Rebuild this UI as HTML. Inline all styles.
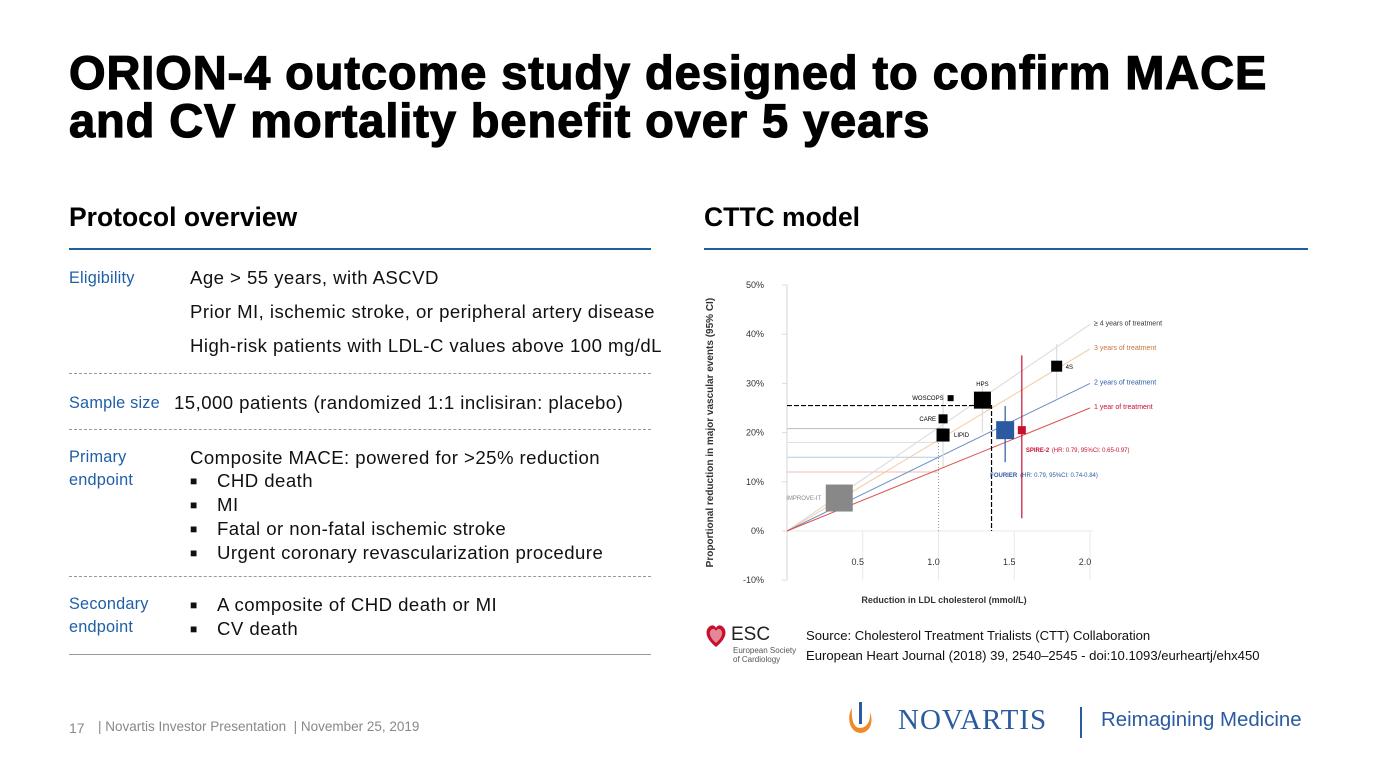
<!DOCTYPE html>
<html><head><meta charset="utf-8"><style>
body{margin:0;width:1375px;height:772px;background:#fff;position:relative;overflow:hidden;font-family:"Liberation Sans",Arial,sans-serif}
.a{position:absolute;white-space:nowrap}
.t{font-size:18.6px;color:#111;letter-spacing:0.45px}
.l{font-size:16.3px;color:#1f5fa8;line-height:23px;letter-spacing:0.2px}
.b{font-size:18.6px;color:#111;line-height:23px;letter-spacing:0.45px}
.b span{display:inline-block;width:27px;font-size:12px;vertical-align:2px;letter-spacing:0}
</style></head><body>
<div class="a" style="left:69px;top:49px;font-size:47px;font-weight:bold;line-height:48px;letter-spacing:0.9px;-webkit-text-stroke:1.2px #000;color:#000">ORION-4 outcome study designed to confirm MACE<br>and CV mortality benefit over 5 years</div>

<div class="a" style="left:69px;top:202px;font-size:26.5px;font-weight:bold">Protocol overview</div>
<div class="a" style="left:69px;top:248px;width:582px;height:2px;background:#1d5fa3"></div>
<div class="a" style="left:704px;top:202px;font-size:26.5px;font-weight:bold">CTTC model</div>
<div class="a" style="left:704px;top:248px;width:604px;height:2px;background:#1d5fa3"></div>

<div class="a l" style="left:69px;top:267px">Eligibility</div>
<div class="a t" style="left:190px;top:267px">Age &gt; 55 years, with ASCVD</div>
<div class="a t" style="left:190px;top:301px">Prior MI, ischemic stroke, or peripheral artery disease</div>
<div class="a t" style="left:190px;top:335px">High-risk patients with LDL-C values above 100 mg/dL</div>
<div class="a" style="left:69px;top:373px;width:582px;border-top:1px dashed #999"></div>
<div class="a l" style="left:69px;top:392px">Sample size</div>
<div class="a t" style="left:174px;top:392px">15,000 patients (randomized 1:1 inclisiran: placebo)</div>
<div class="a" style="left:69px;top:429px;width:582px;border-top:1px dashed #999"></div>
<div class="a l" style="left:69px;top:446px">Primary<br>endpoint</div>
<div class="a b" style="left:190px;top:446px">Composite MACE: powered for &gt;25% reduction<br><span>■</span>CHD death<br><span>■</span>MI<br><span>■</span>Fatal or non-fatal ischemic stroke<br><span>■</span>Urgent coronary revascularization procedure</div>
<div class="a" style="left:69px;top:576px;width:582px;border-top:1px dashed #999"></div>
<div class="a l" style="left:69px;top:593px">Secondary<br>endpoint</div>
<div class="a b" style="left:190px;top:593px"><span>■</span>A composite of CHD death or MI<br><span>■</span>CV death</div>
<div class="a" style="left:69px;top:654px;width:582px;border-top:1px solid #999"></div>

<svg class="a" style="left:0;top:0" width="1375" height="772" id="chart"></svg>

<svg class="a" style="left:704px;top:622px" width="36" height="28"><path d="M12 25 C2 17 1 10 4 6 C7 2 11 3 12 6 C13 3 17 2 20 6 C23 10 22 17 12 25Z" fill="#c8102e"/><path d="M12 21 C5 15 5 10 7 8 C9 6 11 7 12 9 C13 7 15 6 17 8 C19 10 19 15 12 21Z" fill="#fff" opacity=".5"/></svg>
<div class="a" style="left:731px;top:624px;font-size:19px;color:#222">ESC</div>
<div class="a" style="left:733px;top:646px;font-size:8px;line-height:9px;color:#555">European Society<br>of Cardiology</div>
<div class="a" style="left:806px;top:626px;font-size:13.1px;line-height:20px;color:#111">Source: Cholesterol Treatment Trialists (CTT) Collaboration<br>European Heart Journal (2018) 39, 2540–2545 - doi:10.1093/eurheartj/ehx450</div>

<div class="a" style="left:69px;top:720px;font-size:14px;color:#888">17</div>
<div class="a" style="left:98px;top:719px;font-size:13.5px;color:#888">| Novartis Investor Presentation &nbsp;| November 25, 2019</div>
<svg class="a" style="left:846px;top:700px" width="30" height="38"><path d="M6 8 C0 18 4 32 14 33 C24 33 28 22 24 12 C25 22 20 28 14 28 C8 28 5 20 6 8Z" fill="#f08a24"/><rect x="13" y="2" width="3" height="22" fill="#2a5aa0"/></svg>
<div class="a" style="left:898px;top:704px;font-family:'Liberation Serif',serif;font-size:29px;color:#2a5aa0;letter-spacing:1px">NOVARTIS</div>
<div class="a" style="left:1080px;top:707px;width:2px;height:31px;background:#2a5aa0"></div>
<div class="a" style="left:1101px;top:709px;font-size:20.4px;color:#2a5aa0">Reimagining Medicine</div>

<script>
const xTicks=[0.5,1.0,1.5,2.0];
const xTickLabels=["0.5","1.0","1.5","2.0"];
const yTicks=[50,40,30,20,10,0,-10];
const yTickLabels=["50%","40%","30%","20%","10%","0%","-10%"];
const lineNames=["≥ 4 years of treatment","3 years of treatment","2 years of treatment","1 year of treatment"];
const lineEndValues=[42,37,30,25];
const lineColors=["#d8d8d8","#f5c9a0","#6a8fc8","#d9534f"];
const labelColors=["#333","#c8743a","#2a5aa0","#c8102e"];
const trialNames=["IMPROVE-IT","WOSCOPS","HPS","CARE","LIPID","4S","FOURIER","SPIRE-2"];
const trialX=[0.345,1.08,1.29,1.03,1.03,1.78,1.44,1.55];
const trialY=[6.7,27,26.6,22.8,19.5,33.5,20.5,20.5];
const trialSize=[27,6,17,9,13,11,18,8];
const trialColors=["#888","#000","#000","#000","#000","#000","#2a5aa0","#c8102e"];
const ciLow=[null,null,20,null,13,27,14,2.6];
const ciHigh=[null,null,30,null,28,38,25.4,35.7];
const targetX=1.35, targetY=25.5;

const svg=document.getElementById('chart');
const NS='http://www.w3.org/2000/svg';
const X=v=>787+v*151.5;
const Y=v=>531-v*4.92;
function mk(t,a,txt){const e=document.createElementNS(NS,t);for(const k in a)e.setAttribute(k,a[k]);if(txt!=null)e.textContent=txt;svg.appendChild(e);return e;}
let e=mk('line',{x1:X(0),y1:Y(50),x2:X(0),y2:Y(-10),stroke:'#e4e4e4','stroke-width':1.5});

xTicks.forEach((t,i)=>{
 let g=mk('line',{x1:X(t),y1:Y(0),x2:X(t),y2:Y(-10),stroke:'#e8e8e8'});
 
 let l=mk('text',{x:X(t)-5,y:Y(0)+34,'font-size':9,fill:'#333','text-anchor':'middle'},xTickLabels[i]);
 
});
e=mk('line',{x1:X(0),y1:Y(0),x2:X(2.02),y2:Y(0),stroke:'#e8e8e8'});

yTicks.forEach((t,i)=>{
 let l=mk('text',{x:764,y:Y(t)+3,'font-size':9,fill:'#333','text-anchor':'end'},yTickLabels[i]);
 
 let k=mk('line',{x1:X(0)-5,y1:Y(t),x2:X(0),y2:Y(t),stroke:'#ddd'});
 
});
e=mk('text',{x:0,y:0,'font-size':10,'font-weight':'bold',fill:'#333','text-anchor':'middle',transform:`translate(713,${Y(20)}) rotate(-90)`},'Proportional reduction in major vascular events (95% CI)');

e=mk('text',{x:944,y:603,'font-size':9,'font-weight':'bold',fill:'#333','text-anchor':'middle'},'Reduction in LDL cholesterol (mmol/L)');

[[20.8,1.05,'#bbb'],[18,1.0,'#e0e0e0'],[15,1.0,'#b8cce8'],[12,1.0,'#f4b8b8']].forEach(r=>{
 let h=mk('line',{x1:X(0),y1:Y(r[0]),x2:X(r[1]),y2:Y(r[0]),stroke:r[2],'stroke-width':1});
 
});
e=mk('line',{x1:X(1.0),y1:Y(0),x2:X(1.0),y2:Y(19),stroke:'#999','stroke-dasharray':'1 2'});

lineNames.forEach((n,i)=>{
 let l=mk('line',{x1:X(0),y1:Y(0),x2:X(2.0),y2:Y(lineEndValues[i]),stroke:lineColors[i],'stroke-width':1});
 
 let t=mk('text',{x:X(2.0)+4,y:Y(lineEndValues[i])+1,'font-size':7,fill:labelColors[i]},n);
 
});
trialNames.forEach((n,i)=>{
 if(ciLow[i]==null)return;
 let c=trialColors[i]=='#000'?'#ddd':trialColors[i];
 let l=mk('line',{x1:X(trialX[i]),y1:Y(ciLow[i]),x2:X(trialX[i]),y2:Y(ciHigh[i]),stroke:c,'stroke-width':1.2});
 
});
e=mk('polyline',{points:`${X(0)},${Y(targetY)} ${X(targetX)},${Y(targetY)} ${X(targetX)},${Y(0)}`,fill:'none',stroke:'#000','stroke-width':1.2,'stroke-dasharray':'5 2'});

const labelPos=[[-18,2,'end','#888'],[-7,2,'end','#000'],[0,-14,'middle','#000'],[-7,2,'end','#000'],[11,2,'start','#000'],[9,3,'start','#000'],[-15,47,'start','#2a5aa0'],[4,22,'start','#c8102e']];
trialNames.forEach((n,i)=>{
 let s=trialSize[i];
 let r=mk('rect',{x:X(trialX[i])-s/2,y:Y(trialY[i])-s/2,width:s,height:s,fill:trialColors[i]});
 
 let p=labelPos[i];
 let t=mk('text',{x:X(trialX[i])+p[0],y:Y(trialY[i])+p[1],'font-size':6,fill:p[3],'text-anchor':p[2],'font-weight':(i>=6?'bold':'normal')},n);
 
});
e=mk('text',{x:X(1.55)+30,y:Y(20.5)+22,'font-size':6,fill:'#c8102e'},'(HR: 0.79, 95%CI: 0.65-0.97)');

e=mk('text',{x:X(1.44)+15,y:Y(20.5)+47,'font-size':6,fill:'#2a5aa0'},'(HR: 0.79, 95%CI: 0.74-0.84)');

</script>
</body></html>
